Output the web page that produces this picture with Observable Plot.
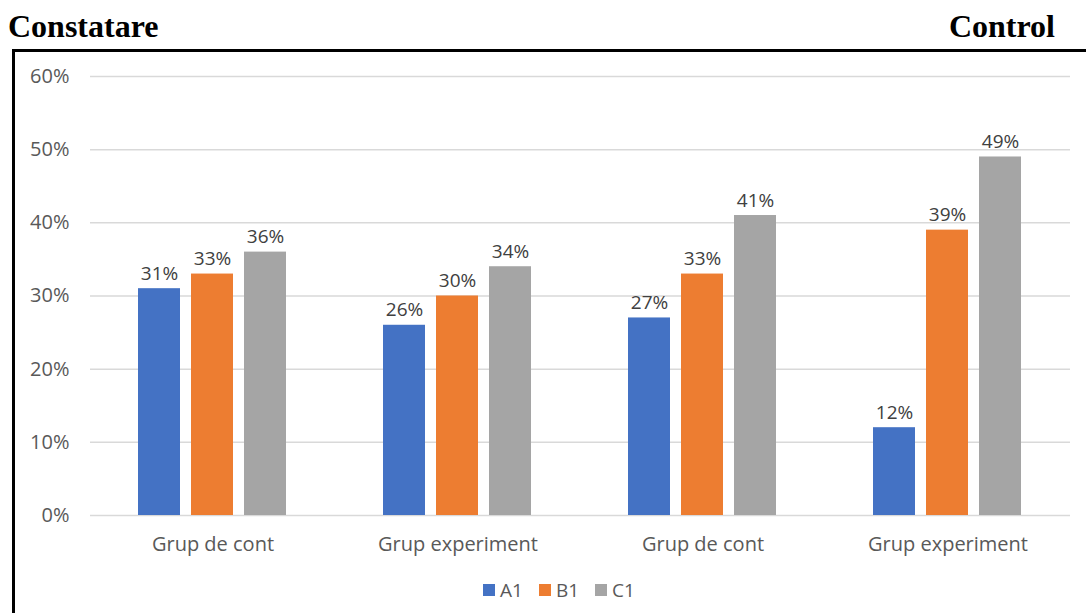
<!DOCTYPE html>
<html>
<head>
<meta charset="utf-8">
<script src="https://cdn.jsdelivr.net/npm/d3@7"></script>
<script src="https://cdn.jsdelivr.net/npm/@observablehq/plot@0.6"></script>
<style>
  html, body { margin: 0; padding: 0; background: #fff; }
  #wrap { position: relative; width: 1086px; height: 613px; overflow: hidden; }
  .title { position: absolute; top: 8px; font-family: "Liberation Serif", "Times New Roman", serif; font-weight: bold; font-size: 32px; color: #000; line-height: 36px; }
  #frame { position: absolute; left: 12px; top: 49px; width: 1200px; height: 700px; border-left: 3px solid #000; border-top: 3px solid #000; }
  #chart { position: absolute; left: 0; top: 52px; }
  #legend { position: absolute; left: 0; width: 1134px; top: 573px; display: flex; justify-content: center; }
  .lg-swatch { margin-right: 16px !important; }
  .lg-swatch > svg { margin-right: 5px !important; }
</style>
</head>
<body>
<div id="wrap">
  <div class="title" style="left:8px;">Constatare</div>
  <div class="title" style="right:31px;">Control</div>
  <div id="frame"></div>
  <div id="chart"></div>
  <div id="legend"></div>
</div>
<script>
const groupIds = ["g1", "g2", "g3", "g4"];
const groupLabels = ["Grup de cont", "Grup experiment", "Grup de cont", "Grup experiment"];
const series = ["A1", "B1", "C1"];
const valuesA1 = [31, 26, 27, 12];
const valuesB1 = [33, 30, 33, 39];
const valuesC1 = [36, 34, 41, 49];
const yTicks = [0, 10, 20, 30, 40, 50, 60];
const colors = ["#4472C4", "#ED7D31", "#A5A5A5"];

const seriesValues = {A1: valuesA1, B1: valuesB1, C1: valuesC1};
const table = [];
groupIds.forEach((g, i) => {
  series.forEach(s => table.push({gid: g, series: s, value: seriesValues[s][i] / 100}));
});
const labelOf = Object.fromEntries(groupIds.map((g, i) => [g, groupLabels[i]]));

const font = "'Open Sans', 'Noto Sans', sans-serif";

const plot = Plot.plot({
  width: 1086,
  height: 520,
  marginLeft: 88,
  marginRight: 15,
  marginTop: 24,
  marginBottom: 57,
  style: {fontFamily: font, fontSize: "19px", color: "#595959", background: "transparent"},
  facet: {data: table, x: "gid"},
  fx: {domain: groupIds, padding: 0, axis: "bottom", tickSize: 0, tickPadding: 21, label: null, tickFormat: d => labelOf[d]},
  x: {domain: series, axis: null, paddingInner: 0.204, paddingOuter: 0.877},
  y: {domain: [0, 0.6], ticks: yTicks.map(v => v / 100), tickFormat: d => Math.round(d * 100) + "%", tickSize: 0, tickPadding: 21, label: null},
  color: {domain: series, range: colors},
  marks: [
    Plot.ruleY(yTicks.map(v => v / 100), {stroke: "#d9d9d9", strokeWidth: 1.5}),
    Plot.barY(table, {x: "series", y: "value", fill: "series"}),
    Plot.text(table, {x: "series", y: "value", text: d => Math.round(d.value * 100) + "%", lineAnchor: "bottom", dy: -9, fill: "#404040", fontSize: 19})
  ]
});
plot.querySelectorAll("g[aria-label^='fx-axis'] text").forEach(t => t.style.fontSize = "20px");
plot.querySelectorAll("g[aria-label^='y-axis'] text").forEach(t => t.style.fontSize = "20px");
document.getElementById("chart").appendChild(plot);

const legend = Plot.legend({
  color: {type: "ordinal", domain: series, range: colors},
  className: "lg",
  swatchSize: 12,
  swatchWidth: 12,
  swatchHeight: 12,
  style: {fontFamily: font, fontSize: "19px", color: "#595959"}
});
document.getElementById("legend").appendChild(legend);
</script>
</body>
</html>
